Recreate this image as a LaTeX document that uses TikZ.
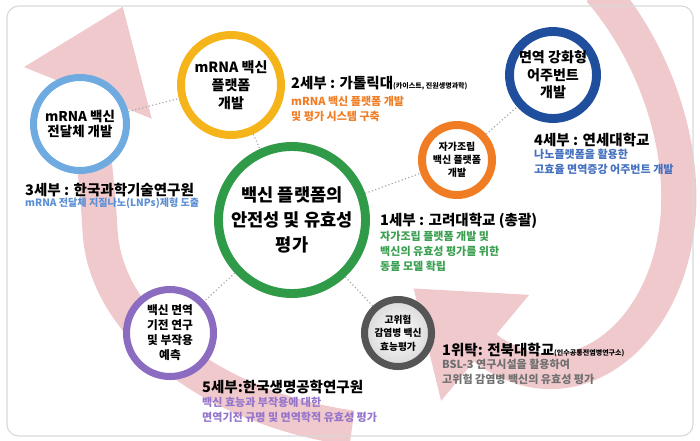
\documentclass[tikz,border=0pt]{standalone}
\usepackage{fontspec}
\setmainfont{Noto Sans CJK KR}
\usetikzlibrary{arrows.meta}
\definecolor{bandpink}{HTML}{F0C9CD}
\definecolor{ringyellow}{HTML}{F4B41A}
\definecolor{ringlblue}{HTML}{6FAAE0}
\definecolor{ringgreen}{HTML}{2F9A47}
\definecolor{ringdblue}{HTML}{1F4E9C}
\definecolor{ringorange}{HTML}{F07D23}
\definecolor{ringpurple}{HTML}{8C6CC0}
\definecolor{ringgray}{HTML}{555555}
\definecolor{txtblue}{HTML}{5A8FD6}
\definecolor{txtdblue}{HTML}{4470C0}
\definecolor{txtgreen}{HTML}{3A9F50}
\definecolor{txtgray}{HTML}{707070}
\definecolor{txtpurple}{HTML}{9575CC}
\tikzset{
  ring/.style={circle, draw=#1, fill=white, align=center, inner sep=0pt},
  title/.style={anchor=base west, inner sep=0pt, font=\bfseries\fontsize{12.4}{14}\selectfont},
  desc/.style={anchor=north west, inner sep=0pt, align=left, text=#1,
    font=\bfseries\fontsize{9.4}{12.8}\selectfont},
  link/.style={draw=gray!70, dotted, line width=1pt},
  band/.style={draw=bandpink, line width=30pt, line cap=butt,
    -{Triangle[length=80pt, width=112pt]}}
}
\begin{document}
\begin{tikzpicture}[x=0.03cm, y=-0.03cm, line join=round]
\useasboundingbox (0,0) rectangle (700,440);
% background cycle
\draw[band] (352,428) .. controls (220,410) and (105,330) .. (100,230)
  .. controls (97,170) and (85,100) .. (123,6);
\draw[band] (600,-10) .. controls (660,60) and (690,160) .. (675,240)
  .. controls (655,350) and (560,410) .. (413,288);
\draw[gray!30, line width=1pt, rounded corners=10pt] (7,6) rectangle (693,436);
% circles
\node[ring=ringgreen, line width=7.6pt, minimum size=4.41cm,
  font=\bfseries\fontsize{15}{21}\selectfont] (main) at (292,220) {백신 플랫폼의\\안전성 및 유효성\\평가};
\node[ring=ringyellow, line width=6.8pt, minimum size=3.0cm,
  font=\bfseries\fontsize{12}{15.5}\selectfont] (mrna) at (231,85) {mRNA 백신\\플랫폼\\개발};
\node[ring=ringlblue, line width=6pt, minimum size=2.79cm,
  font=\bfseries\fontsize{11.5}{13}\selectfont] (carrier) at (80,124) {mRNA 백신\\전달체 개발};
\node[ring=ringdblue, line width=7.6pt, minimum size=2.61cm,
  font=\bfseries\fontsize{12}{15}\selectfont] (adjuv) at (553,75) {면역 강화형\\어주번트\\개발};
\node[ring=ringorange, line width=6.8pt, minimum size=2.1cm,
  font=\bfseries\fontsize{8.5}{11.2}\selectfont] (selfasm) at (457,160) {자가조립\\백신 플랫폼\\개발};
\node[ring=ringpurple, line width=6pt, minimum size=2.61cm,
  font=\bfseries\fontsize{10}{12.8}\selectfont] (immune) at (170,333) {백신 면역\\기전 연구\\및 부작용\\예측};
\node[ring=ringgray, line width=6pt, minimum size=2.01cm, inner color=white, outer color=gray!30,
  font=\bfseries\fontsize{8.3}{11.5}\selectfont] (risk) at (398,333) {고위험\\감염병 백신\\효능평가};
% dotted links
\draw[link] (carrier) -- (mrna);
\draw[link] (mrna) -- (main);
\draw[link] (main) -- (selfasm);
\draw[link] (selfasm) -- (adjuv);
\draw[link] (main) -- (immune);
\draw[link] (main) -- (risk);
% labels
\node[title] (t2) at (291,88) {2세부 : 가톨릭대{\fontsize{6}{7}\selectfont(카이스트, 진원생명과학)}};
\node[desc=ringorange] (d2) at (291,96) {mRNA 백신 플랫폼 개발\\및 평가 시스템 구축};
\node[title] (t3) at (25,195) {3세부 : 한국과학기술연구원};
\node[desc=txtblue, font=\bfseries\fontsize{8.6}{12.8}\selectfont] (d3) at (25,198) {mRNA 전달체 지질나노(LNPs)제형 도출};
\node[title] (t4) at (534,145) {4세부 : 연세대학교};
\node[desc=txtdblue] (d4) at (534,149) {나노플랫폼을 활용한\\고효율 면역증강 어주번트 개발};
\node[title] (t1) at (380,225) {1세부 : 고려대학교 (총괄)};
\node[desc=txtgreen] (d1) at (380,231) {자가조립 플랫폼 개발 및\\백신의 유효성 평가를 위한\\동물 모델 확립};
\node[title] (tw) at (442,355) {1위탁: 전북대학교{\fontsize{6}{7}\selectfont(인수공통전염병연구소)}};
\node[desc=txtgray] (dw) at (442,359) {BSL-3 연구시설을 활용하여\\고위험 감염병 백신의 유효성 평가};
\node[title] (t5) at (202,392) {5세부:한국생명공학연구원};
\node[desc=txtpurple] (d5) at (202,397) {백신 효능과 부작용에 대한\\면역기전 규명 및 면역학적 유효성 평가};
\end{tikzpicture}
\end{document}
